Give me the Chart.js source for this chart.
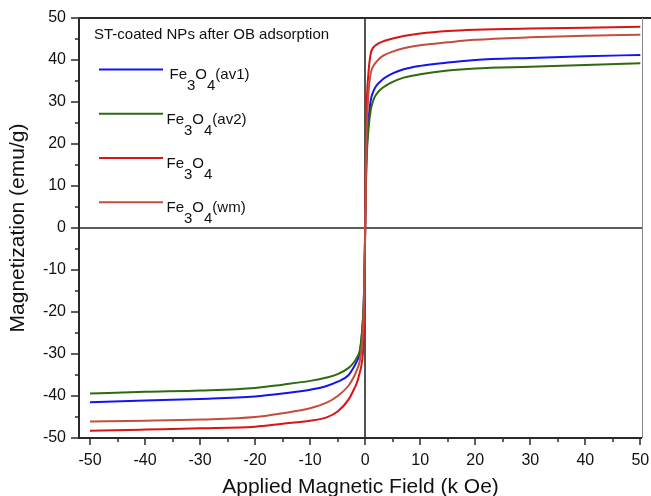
<!DOCTYPE html>
<html>
<head>
<meta charset="utf-8">
<script src="https://cdn.jsdelivr.net/npm/chart.js@4.4.0/dist/chart.umd.min.js"></script>
<style>
  html, body { margin: 0; padding: 0; background: #fff; }
  #wrap { width: 651px; height: 496px; }
</style>
</head>
<body>
<div id="wrap"><canvas id="magChart" width="651" height="496"></canvas></div>
<script>
// Applied field (k Oe), shared by all four curves
const fieldKOe = [-50, -40, -30, -20, -15, -10, -7, -5, -3, -2, -1.5, -1, -0.6, -0.3, -0.15, 0,
                  0.15, 0.3, 0.6, 1, 1.5, 2, 3, 5, 7, 10, 15, 20, 30, 40, 50];

// Magnetization (emu/g)
const magAv1 = [-41.5, -41.1, -40.7, -40.1, -39.4, -38.5, -37.6, -36.6, -35.0, -33.0, -31.7, -29.8, -25.5, -19, -12, 0,
                12, 19, 25.5, 30.3, 32.6, 33.8, 35.2, 36.8, 37.8, 38.6, 39.4, 40.0, 40.5, 40.9, 41.2];
const magAv2 = [-39.4, -39.0, -38.7, -38.1, -37.3, -36.4, -35.6, -34.8, -33.3, -31.9, -30.8, -29.3, -25, -19, -12, 0,
                11, 17.5, 23.5, 28.0, 30.5, 31.8, 33.2, 34.8, 35.8, 36.6, 37.5, 38.0, 38.4, 38.8, 39.2];
const magFe3O4 = [-48.3, -48.0, -47.7, -47.3, -46.6, -45.9, -45.1, -43.7, -40.8, -38.3, -36.8, -34.5, -32, -27, -18, 0,
                  20, 30, 37, 41.5, 43.0, 43.6, 44.3, 45.1, 45.7, 46.3, 46.9, 47.2, 47.5, 47.7, 47.9];
const magWm = [-46.1, -45.9, -45.6, -45.0, -44.1, -42.9, -41.6, -40.0, -37.5, -35.3, -33.8, -31.8, -28, -22, -14, 0,
               15, 24, 32, 36.8, 38.6, 39.5, 40.8, 42.0, 42.8, 43.5, 44.2, 44.8, 45.4, 45.8, 46.0];

// Axis ticks
const xTicks = [-50, -40, -30, -20, -10, 0, 10, 20, 30, 40, 50];
const yTicks = [-50, -40, -30, -20, -10, 0, 10, 20, 30, 40, 50];
const xMinorTicks = [-45, -35, -25, -15, -5, 5, 15, 25, 35, 45];
const yMinorTicks = [-45, -35, -25, -15, -5, 5, 15, 25, 35, 45];

// Legend text: [main, sub, main, sub, tail]
const legendTitle = 'ST-coated NPs after OB adsorption';
const seriesNames = [
    ['Fe', '3', 'O', '4', '(av1)'],
    ['Fe', '3', 'O', '4', '(av2)'],
    ['Fe', '3', 'O', '4', ''],
    ['Fe', '3', 'O', '4', '(wm)']
];
const seriesColors = ['#1414f0', '#2e6a10', '#d81414', '#c24f3e'];
const seriesValues = [magAv1, magAv2, magFe3O4, magWm];

const FONT = "'Liberation Sans', Arial, sans-serif";
const AXIS_COLOR = '#2a2a2a';

// frame, zero lines and tick marks (major + minor)
const frameAndTicks = {
    id: 'frameAndTicks',
    beforeDatasetsDraw(chart) {
        const { ctx, chartArea: a, scales: { x, y } } = chart;
        ctx.save();
        ctx.strokeStyle = AXIS_COLOR;
        ctx.lineWidth = 1.6;
        const x0 = Math.round(x.getPixelForValue(0));
        const y0 = Math.round(y.getPixelForValue(0));
        ctx.beginPath();
        ctx.moveTo(x0, a.top);
        ctx.lineTo(x0, a.bottom);
        ctx.moveTo(a.left, y0);
        ctx.lineTo(a.right, y0);
        ctx.stroke();
        ctx.restore();
    },
    afterDatasetsDraw(chart) {
        const { ctx, chartArea: a, scales: { x, y } } = chart;
        ctx.save();
        ctx.strokeStyle = AXIS_COLOR;
        ctx.lineWidth = 2;
        ctx.beginPath();
        ctx.moveTo(a.left, a.top);
        ctx.lineTo(a.left, a.bottom);
        ctx.lineTo(a.right, a.bottom);
        ctx.moveTo(a.left, a.top);
        ctx.lineTo(chart.width, a.top);
        ctx.stroke();

        ctx.strokeStyle = '#8a8a8a';
        ctx.lineWidth = 1;
        ctx.beginPath();
        ctx.moveTo(a.right + 0.5, a.top);
        ctx.lineTo(a.right + 0.5, a.bottom);
        ctx.stroke();

        ctx.strokeStyle = AXIS_COLOR;
        ctx.lineWidth = 1.5;
        ctx.beginPath();
        const drawX = (v, len) => {
            const px = Math.round(x.getPixelForValue(v));
            ctx.moveTo(px, a.bottom);
            ctx.lineTo(px, a.bottom + len);
        };
        const drawY = (v, len) => {
            const py = Math.round(y.getPixelForValue(v));
            ctx.moveTo(a.left, py);
            ctx.lineTo(a.left - len, py);
        };
        xTicks.forEach(v => drawX(v, 7));
        xMinorTicks.forEach(v => drawX(v, 4));
        yTicks.forEach(v => drawY(v, 8));
        yMinorTicks.forEach(v => drawY(v, 4));
        ctx.stroke();
        ctx.restore();
    }
};

// legend with subscripts
const subLegend = {
    id: 'subLegend',
    afterDatasetsDraw(chart) {
        const { ctx } = chart;
        ctx.save();
        ctx.fillStyle = '#111';
        ctx.font = `15px ${FONT}`;
        ctx.textBaseline = 'alphabetic';
        ctx.textAlign = 'left';
        ctx.fillText(legendTitle, 94, 38.5);

        const lineYs = [69.5, 113.7, 158, 202.3];
        const textXs = [169.5, 166.5, 166.5, 166.5];
        seriesNames.forEach((parts, i) => {
            const ly = lineYs[i];
            ctx.strokeStyle = seriesColors[i];
            ctx.lineWidth = 2;
            ctx.beginPath();
            ctx.moveTo(99, ly);
            ctx.lineTo(163, ly);
            ctx.stroke();

            const base = ly + 9.8;
            let tx = textXs[i];
            parts.forEach((p, k) => {
                if (!p) return;
                const yy = (k === 1 || k === 3) ? base + 11 : base;
                ctx.fillText(p, tx, yy);
                tx += ctx.measureText(p).width;
            });
        });
        ctx.restore();
    }
};

function init() {
    Chart.defaults.font.family = FONT;
    Chart.defaults.color = '#111';

    const ctx = document.getElementById('magChart').getContext('2d');
    const datasets = seriesValues.map((vals, i) => ({
        label: seriesNames[i].join(''),
        data: fieldKOe.map((f, k) => ({ x: f, y: vals[k] })),
        borderColor: seriesColors[i],
        backgroundColor: seriesColors[i],
        borderWidth: 2,
        pointRadius: 0,
        showLine: true,
        fill: false,
        cubicInterpolationMode: 'monotone',
        order: 4 - i
    }));

    new Chart(ctx, {
        type: 'scatter',
        data: { datasets },
        options: {
            responsive: false,
            animation: false,
            devicePixelRatio: 1,
            layout: { padding: { top: 18, right: 9, left: 0, bottom: 0 } },
            plugins: {
                legend: { display: false },
                tooltip: { enabled: false }
            },
            scales: {
                x: {
                    type: 'linear',
                    min: -52,
                    max: 50.3,
                    afterBuildTicks: s => { s.ticks = xTicks.map(v => ({ value: v })); },
                    afterFit: s => { s.height = 58; s.paddingLeft = 0; s.paddingRight = 0; },
                    grid: { display: false, drawTicks: false },
                    border: { display: false },
                    ticks: { font: { size: 16 }, color: '#111', padding: 13, maxRotation: 0 },
                    title: {
                        display: true,
                        text: 'Applied Magnetic Field (k Oe)',
                        font: { size: 21, lineHeight: 1 },
                        color: '#111',
                        padding: { top: 0, bottom: -2 }
                    }
                },
                y: {
                    type: 'linear',
                    min: -50,
                    max: 50,
                    afterBuildTicks: s => { s.ticks = yTicks.map(v => ({ value: v })); },
                    afterFit: s => { s.width = 79; s.paddingTop = 0; s.paddingBottom = 0; },
                    grid: { display: false, drawTicks: false },
                    border: { display: false },
                    ticks: { font: { size: 16 }, color: '#111', padding: 13 },
                    title: {
                        display: true,
                        text: 'Magnetization (emu/g)',
                        font: { size: 21, lineHeight: 1 },
                        color: '#111',
                        padding: { top: 8, bottom: 0 }
                    }
                }
            }
        },
        plugins: [frameAndTicks, subLegend]
    });
}

document.addEventListener('DOMContentLoaded', init);
</script>
</body>
</html>
